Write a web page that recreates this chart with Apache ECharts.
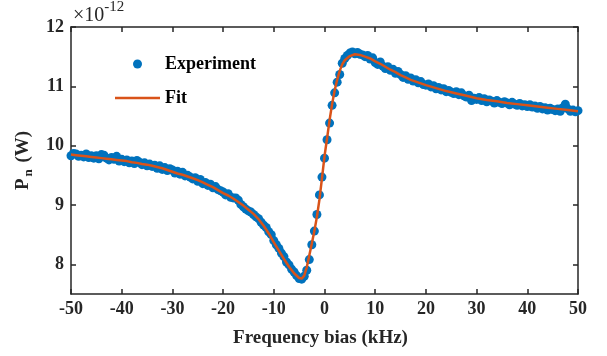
<!DOCTYPE html>
<html>
<head>
<meta charset="utf-8">
<script src="https://cdn.jsdelivr.net/npm/echarts@6/dist/echarts.min.js"></script>
<style>
html,body{margin:0;padding:0;background:#fff}
#main{width:607px;height:356px}
</style>
</head>
<body>
<div id="main"></div>
<script>
// 实验点 (kHz, x1e-12 W)
var expFreq = [
  -50,-49.5,-49,-48.5,-48,-47.5,-47,-46.5,-46,-45.5,
  -45,-44.5,-44,-43.5,-43,-42.5,-42,-41.5,-41,-40.5,
  -40,-39.5,-39,-38.5,-38,-37.5,-37,-36.5,-36,-35.5,
  -35,-34.5,-34,-33.5,-33,-32.5,-32,-31.5,-31,-30.5,
  -30,-29.5,-29,-28.5,-28,-27.5,-27,-26.5,-26,-25.5,
  -25,-24.5,-24,-23.5,-23,-22.5,-22,-21.5,-21,-20.5,
  -20,-19.5,-19,-18.5,-18,-17.5,-17,-16.5,-16,-15.5,
  -15,-14.5,-14,-13.5,-13,-12.5,-12,-11.5,-11,-10.5,
  -10,-9.5,-9,-8.5,-8,-7.5,-7,-6.5,-6,-5.5,
  -5,-4.5,-4,-3.5,-3,-2.5,-2,-1.5,-1,-0.5,
  0,0.5,1,1.5,2,2.5,3,3.5,4,4.5,
  5,5.5,6,6.5,7,7.5,8,8.5,9,9.5,
  10,10.5,11,11.5,12,12.5,13,13.5,14,14.5,
  15,15.5,16,16.5,17,17.5,18,18.5,19,19.5,
  20,20.5,21,21.5,22,22.5,23,23.5,24,24.5,
  25,25.5,26,26.5,27,27.5,28,28.5,29,29.5,
  30,30.5,31,31.5,32,32.5,33,33.5,34,34.5,
  35,35.5,36,36.5,37,37.5,38,38.5,39,39.5,
  40,40.5,41,41.5,42,42.5,43,43.5,44,44.5,
  45,45.5,46,46.5,47,47.5,48,48.5,49,49.5,50
];
var expPower = [
  9.83,9.87,9.86,9.82,9.84,9.81,9.86,9.80,9.83,9.79,
  9.83,9.78,9.85,9.84,9.79,9.76,9.80,9.77,9.82,9.74,
  9.77,9.73,9.76,9.71,9.74,9.70,9.75,9.72,9.68,9.71,
  9.66,9.69,9.65,9.67,9.62,9.66,9.60,9.63,9.58,9.61,
  9.59,9.54,9.57,9.52,9.55,9.49,9.50,9.47,9.44,9.46,
  9.40,9.43,9.36,9.38,9.33,9.35,9.29,9.31,9.26,9.24,
  9.22,9.17,9.19,9.13,9.12,9.12,9.08,9.01,8.97,8.93,
  8.90,8.88,8.84,8.80,8.77,8.71,8.66,8.62,8.55,8.50,
  8.40,8.33,8.27,8.19,8.13,8.04,7.99,7.92,7.87,7.81,
  7.76,7.75,7.80,7.90,8.08,8.33,8.56,8.84,9.17,9.47,
  9.79,10.10,10.38,10.68,10.89,11.07,11.20,11.39,11.47,11.52,
  11.56,11.58,11.55,11.57,11.54,11.53,11.50,11.52,11.46,11.48,
  11.40,11.37,11.41,11.34,11.30,11.33,11.27,11.29,11.22,11.25,
  11.20,11.15,11.18,11.12,11.14,11.09,11.11,11.06,11.08,11.03,
  11.02,11.04,10.99,11.01,10.96,10.98,10.94,10.96,10.91,10.93,
  10.90,10.88,10.91,10.86,10.89,10.84,10.82,10.85,10.76,10.80,
  10.78,10.81,10.76,10.79,10.74,10.77,10.75,10.72,10.76,10.73,
  10.71,10.74,10.72,10.69,10.73,10.70,10.68,10.71,10.67,10.69,
  10.66,10.69,10.65,10.67,10.63,10.66,10.62,10.64,10.60,10.63,
  10.61,10.59,10.62,10.58,10.64,10.70,10.62,10.58,10.60,10.57,10.59
];

// 拟合曲线
var fitFreq = [
  -50,-49,-48,-47,-46,-45,-44,-43,-42,-41,-40,-39,-38,-37,-36,-35,-34,-33,-32,-31,
  -30,-29,-28,-27,-26,-25,-24,-23,-22,-21,-20,-19,-18,-17,-16,-15,-14,-13,-12,-11,
  -10,-9,-8,-7,-6,-5,-4.5,-4,-3.5,-3,-2.5,-2,-1.5,-1,-0.5,0,0.5,1,1.5,2,2.5,3,3.5,4,
  5,6,7,8,9,10,11,12,13,14,15,16,17,18,19,20,22,24,26,28,30,32,34,36,38,40,42,44,46,48,50
];
var fitPower = [
  9.85,9.84,9.83,9.82,9.81,9.80,9.79,9.78,9.77,9.76,9.75,9.74,9.72,9.71,9.69,9.68,9.66,9.64,9.62,9.59,
  9.56,9.53,9.51,9.48,9.45,9.42,9.38,9.34,9.30,9.25,9.20,9.16,9.11,9.05,8.99,8.92,8.85,8.76,8.65,8.52,
  8.37,8.23,8.09,7.96,7.85,7.77,7.76,7.81,7.95,8.15,8.35,8.56,8.80,9.09,9.45,9.82,10.12,10.43,10.70,10.93,11.11,11.26,11.37,11.44,
  11.51,11.54,11.53,11.50,11.47,11.42,11.38,11.33,11.28,11.24,11.19,11.15,11.11,11.08,11.05,11.02,10.97,10.92,10.88,10.84,10.80,10.77,10.75,10.72,10.70,10.68,10.66,10.64,10.62,10.60,10.58
];

var yTicks = [8, 9, 10, 11, 12];

var expData = expFreq.map(function (f, i) { return [f, expPower[i]]; });
var fitData = fitFreq.map(function (f, i) { return [f, fitPower[i]]; });

var font = 'Liberation Serif';
var axisCol = '#262626';

var chart = echarts.init(document.getElementById('main'));

function boxAxis(pos, isX, show) {
  var a = {
    type: 'value',
    position: pos,
    min: isX ? -50 : 7.5,
    max: isX ? 50 : 12,
    splitLine: { show: false },
    axisLine: { show: true, onZero: false, lineStyle: { color: axisCol, width: 1.5 } },
    axisTick: { show: true, inside: true, length: 5, lineStyle: { color: axisCol, width: 1.5 } },
    axisLabel: {
      show: show, color: axisCol, fontFamily: font, fontWeight: 'bold', fontSize: 18,
      margin: isX ? 6 : 7
    }
  };
  if (isX) {
    a.interval = 10;
  } else {
    a.axisTick.customValues = yTicks;
    a.axisLabel.customValues = yTicks;
  }
  return a;
}

var xBottom = boxAxis('bottom', true, true);
xBottom.name = 'Frequency bias (kHz)';
xBottom.nameLocation = 'middle';
xBottom.nameGap = 35;
xBottom.nameTextStyle = { color: axisCol, fontFamily: font, fontWeight: 'bold', fontSize: 19, padding: [0, 8, 0, 0] };

var yLeft = boxAxis('left', false, true);
yLeft.name = '{p|P}{s|n}{p| (W)}';
yLeft.nameLocation = 'middle';
yLeft.nameGap = 36;
yLeft.nameRotate = 90;
yLeft.nameTextStyle = {
  rich: {
    p: { color: axisCol, fontFamily: font, fontWeight: 'bold', fontSize: 19 },
    s: { color: axisCol, fontFamily: font, fontWeight: 'bold', fontSize: 13, padding: [11, 2, 0, 2] }
  }
};

var option = {
  animation: false,
  backgroundColor: '#fff',
  grid: { left: 71, right: 29, top: 27, bottom: 62 },
  xAxis: [xBottom, boxAxis('top', true, false)],
  yAxis: [yLeft, boxAxis('right', false, false)],
  legend: {
    orient: 'vertical',
    left: 110,
    top: 49,
    itemWidth: 45,
    itemHeight: 9,
    itemGap: 14,
    textStyle: { color: '#000', fontFamily: font, fontWeight: 'bold', fontSize: 18, lineHeight: 20 },
    data: [
      { name: 'Experiment', icon: 'circle' },
      { name: 'Fit', icon: 'path://M0,0 L100,0 L100,6 L0,6 Z' }
    ]
  },
  graphic: [{
    type: 'text',
    left: 73,
    top: 0,
    style: {
      text: '{a|×10}{b|-12}',
      rich: {
        a: { fontFamily: font, fontSize: 20, fill: axisCol, padding: [8, 0, 0, 0] },
        b: { fontFamily: font, fontSize: 15, fill: axisCol, padding: [0, 0, 9, 0] }
      }
    }
  }],
  series: [
    {
      name: 'Experiment',
      type: 'scatter',
      data: expData,
      symbol: 'circle',
      symbolSize: 9,
      itemStyle: { color: '#0072BD', opacity: 1 },
      z: 2
    },
    {
      name: 'Fit',
      type: 'line',
      data: fitData,
      showSymbol: false,
      symbol: 'none',
      lineStyle: { color: '#D95319', width: 2.5 },
      itemStyle: { color: '#D95319' },
      z: 3
    }
  ]
};

chart.setOption(option);
</script>
</body>
</html>
